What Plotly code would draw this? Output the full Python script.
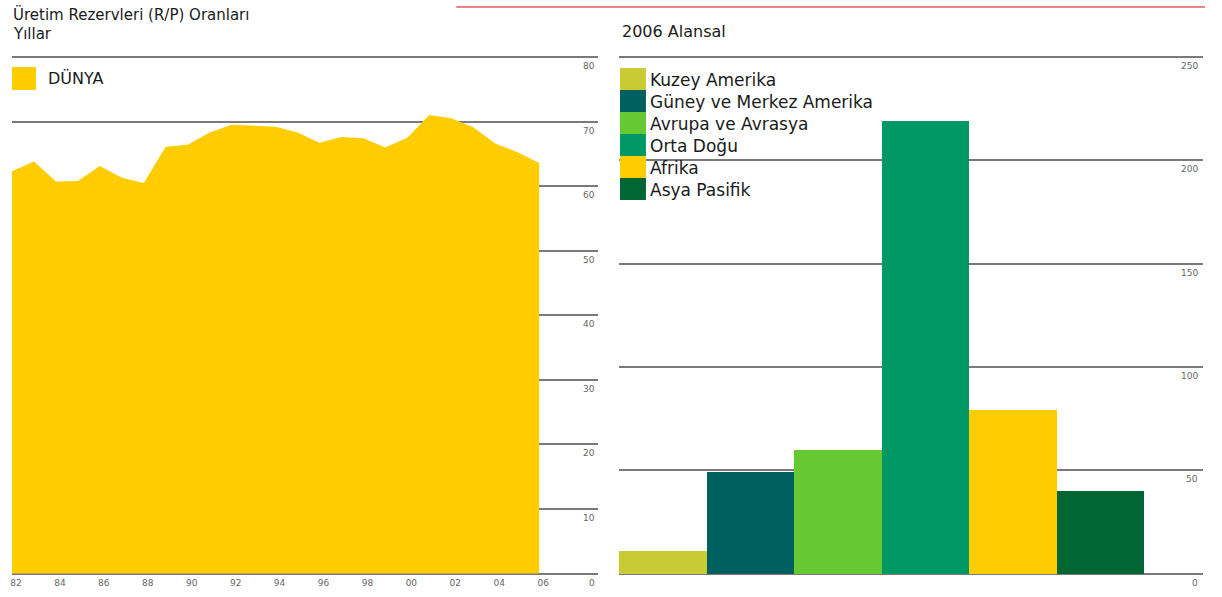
import plotly.graph_objects as go

W, H = 1222, 597

# World reserves-to-production ratio by year
years = [1982, 1983, 1984, 1985, 1986, 1987, 1988, 1989, 1990, 1991, 1992, 1993,
         1994, 1995, 1996, 1997, 1998, 1999, 2000, 2001, 2002, 2003, 2004, 2005, 2006]
world_rp = [62.3, 63.8, 60.7, 60.8, 63.1, 61.3, 60.5, 66.1, 66.4, 68.3, 69.5, 69.3,
            69.2, 68.3, 66.7, 67.6, 67.4, 66.0, 67.5, 71.0, 70.5, 69.1, 66.6, 65.3, 63.6]
year_ticks = [1982, 1984, 1986, 1988, 1990, 1992, 1994, 1996, 1998, 2000, 2002, 2004, 2006]
year_tick_text = ["82", "84", "86", "88", "90", "92", "94", "96", "98", "00", "02", "04", "06"]
left_y_ticks = [0, 10, 20, 30, 40, 50, 60, 70, 80]

# 2006 ratio by region
regions = ["Kuzey Amerika", "Güney ve Merkez Amerika", "Avrupa ve Avrasya",
           "Orta Doğu", "Afrika", "Asya Pasifik"]
region_rp = [11.1, 49.3, 60.0, 219.0, 79.2, 40.0]
region_colors = ["#c9cb34", "#00605f", "#66c933", "#009865", "#ffcc00", "#006633"]
right_y_ticks = [0, 50, 100, 150, 200, 250]

YELLOW = "#ffcc00"
GRID = "#7a7a7a"
TXT = "#1a1a1a"
TICK = "#666666"
FONT = "DejaVu Sans"

# plot frame in pixels: value 0 sits at Y0, the top tick at Y1
Y0, Y1 = 573.5, 57.0
PAD = 2.0  # a little room so the end gridlines are drawn


def px(x):
    return x / W


def py(y):
    return 1 - y / H


def padded_range(top):
    per_px = top / (Y0 - Y1)
    return [-PAD * per_px, top + PAD * per_px]


fig = go.Figure()

fig.add_trace(go.Scatter(
    x=years, y=world_rp, mode="lines", line=dict(width=0, color=YELLOW),
    fill="tozeroy", fillcolor=YELLOW, showlegend=False, hoverinfo="x+y",
    xaxis="x", yaxis="y"))

fig.add_trace(go.Bar(
    x=regions, y=region_rp, marker=dict(color=region_colors, line=dict(width=0)),
    width=1.0, showlegend=False, xaxis="x2", yaxis="y2"))

y_dom = [py(Y0 + PAD), py(Y1 - PAD)]
fig.update_layout(
    width=W, height=H, margin=dict(l=0, r=0, t=0, b=0),
    paper_bgcolor="white", plot_bgcolor="white",
    font=dict(family=FONT, color=TXT),
    bargap=0,
    xaxis=dict(domain=[px(10), px(597)], range=[1982, 2008.68],
               tickmode="array", tickvals=year_ticks, ticktext=year_tick_text,
               showgrid=False, zeroline=False, showline=False, ticks="",
               tickfont=dict(size=9, color=TICK, family=FONT), ticklabelshift=4),
    yaxis=dict(domain=y_dom, range=padded_range(80), tickvals=left_y_ticks,
               showticklabels=False, showgrid=True, gridcolor=GRID, gridwidth=2,
               zeroline=False, showline=False, ticks=""),
    xaxis2=dict(domain=[px(618), px(1203)], range=[-0.5, 6.17],
                showticklabels=False, showgrid=False, zeroline=False,
                showline=False, ticks=""),
    yaxis2=dict(domain=y_dom, range=padded_range(250), tickvals=right_y_ticks,
                showticklabels=False, showgrid=True, gridcolor=GRID, gridwidth=2,
                zeroline=False, showline=False, ticks="", anchor="x2"),
)

annotations = []
shapes = []

# value labels sitting under the right end of each gridline
for v in left_y_ticks:
    annotations.append(dict(x=1, xref="x domain", y=v, yref="y", text=str(v),
                            showarrow=False, xanchor="right", yanchor="top",
                            yshift=-2, xshift=-1,
                            font=dict(size=9, color=TICK, family=FONT)))
for v in right_y_ticks:
    annotations.append(dict(x=1, xref="x2 domain", y=v, yref="y2", text=str(v),
                            showarrow=False, xanchor="right", yanchor="top",
                            yshift=-2, xshift=-3,
                            font=dict(size=9, color=TICK, family=FONT)))

# titles
annotations += [
    dict(x=px(9), y=py(3), xref="paper", yref="paper", xanchor="left", yanchor="top",
         text="Üretim Rezervleri (R/P) Oranları", showarrow=False,
         font=dict(size=15, color=TXT, family=FONT)),
    dict(x=px(9), y=py(23), xref="paper", yref="paper", xanchor="left", yanchor="top",
         text="Yıllar", showarrow=False, font=dict(size=15, color=TXT, family=FONT)),
    dict(x=px(619), y=py(20), xref="paper", yref="paper", xanchor="left", yanchor="top",
         text="2006 Alansal", showarrow=False, font=dict(size=16, color=TXT, family=FONT)),
]

# decorative rule at the top
shapes.append(dict(type="line", xref="paper", yref="paper", x0=px(455), x1=px(1205),
                   y0=py(7), y1=py(7), line=dict(color="#e8868a", width=2)))

# left key
shapes.append(dict(type="rect", xref="paper", yref="paper", x0=px(10), x1=px(34),
                   y0=py(90), y1=py(67), fillcolor=YELLOW, line=dict(width=0)))
annotations.append(dict(x=px(44), y=py(78.5), xref="paper", yref="paper",
                        xanchor="left", yanchor="middle", text="DÜNYA", showarrow=False,
                        font=dict(size=16, color=TXT, family=FONT)))

# right key
row_h = 22
for i, (name, col) in enumerate(zip(regions, region_colors)):
    top = 68 + i * row_h
    shapes.append(dict(type="rect", xref="paper", yref="paper", x0=px(619), x1=px(645),
                       y0=py(top + row_h), y1=py(top), fillcolor=col, line=dict(width=0)))
    annotations.append(dict(x=px(647), y=py(top + row_h / 2 + 1), xref="paper", yref="paper",
                            xanchor="left", yanchor="middle", text=name, showarrow=False,
                            font=dict(size=17, color=TXT, family=FONT)))

fig.update_layout(annotations=annotations, shapes=shapes)

fig.write_html("out.html")
